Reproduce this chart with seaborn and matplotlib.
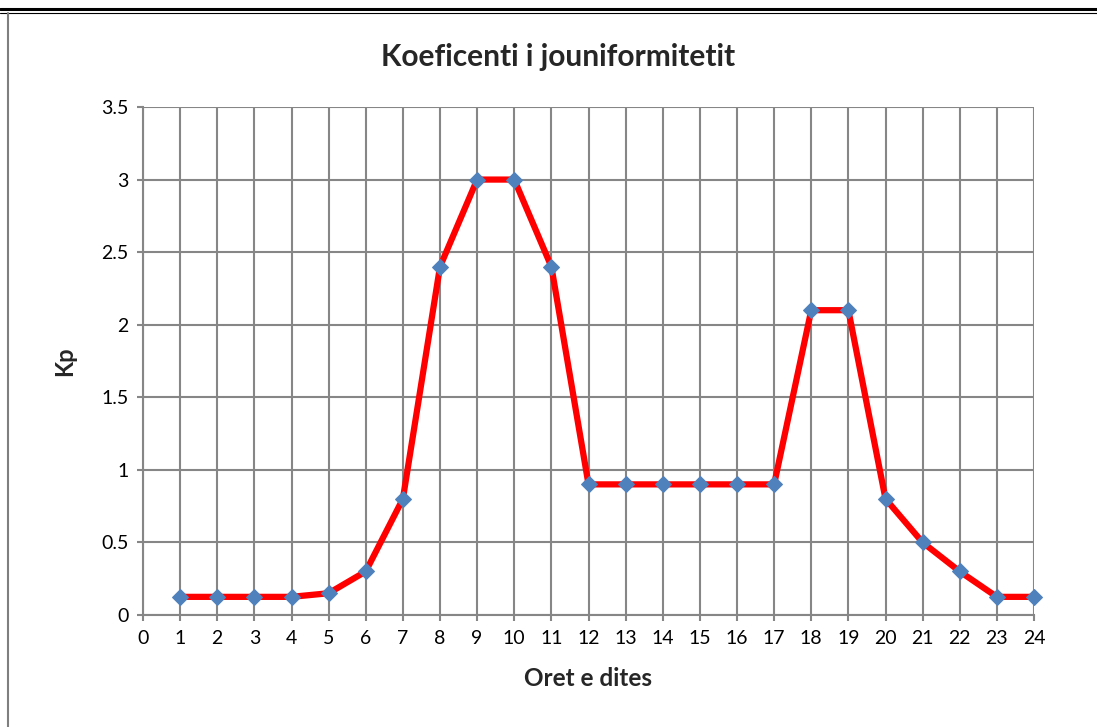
import matplotlib
matplotlib.use("Agg")
import matplotlib.pyplot as plt
import seaborn as sns
import pandas as pd
from matplotlib.lines import Line2D

hours = list(range(1, 25))
kp = [0.125, 0.125, 0.125, 0.125, 0.15, 0.3, 0.8, 2.4, 3.0, 3.0, 2.4, 0.9,
      0.9, 0.9, 0.9, 0.9, 0.9, 2.1, 2.1, 0.8, 0.5, 0.3, 0.125, 0.125]
title = "Koeficenti i jouniformitetit"
xlabel = "Oret e dites"
ylabel = "Kp"

sns.set_style("white")
plt.rcParams['font.family'] = ['Lato', 'DejaVu Sans']

df = pd.DataFrame({"hour": hours, "kp": kp})

fig = plt.figure(figsize=(10.97, 7.27), dpi=100)
ax = fig.add_axes([143/1097, 1 - 615/727, (1034-143)/1097, (615-107)/727])

sns.lineplot(data=df, x="hour", y="kp", ax=ax, color="#FF0000", linewidth=4.5,
             marker="D", markersize=8, markerfacecolor="#4F81BD",
             markeredgecolor="#4F81BD", zorder=3, clip_on=False)

grid_c = "#868686"
ax.set_xlim(0, 24)
ax.set_ylim(0, 3.5)
ax.set_xticks(range(0, 25))
ax.set_yticks([0, 0.5, 1, 1.5, 2, 2.5, 3, 3.5])
ax.set_yticklabels(["0", "0.5", "1", "1.5", "2", "2.5", "3", "3.5"])
ax.grid(True, color=grid_c, linewidth=1.5)
ax.set_axisbelow(True)
for s in ["top", "right"]:
    ax.spines[s].set_visible(False)
for s in ["left", "bottom"]:
    ax.spines[s].set_color(grid_c)
    ax.spines[s].set_linewidth(1.5)
ax.tick_params(axis="both", direction="out", length=4.5, width=1.5, color=grid_c,
               labelsize=14, labelcolor="black", left=True, bottom=True)
ax.tick_params(axis="x", pad=6)
ax.tick_params(axis="y", pad=6)

fig.text(558/1097, 1 - 57/727, title, fontsize=21.5, fontweight="bold",
         ha="center", va="center")
ax.set_xlabel(xlabel, fontsize=17.5, fontweight="bold", labelpad=15)
ax.set_ylabel(ylabel, fontsize=17, fontweight="bold", labelpad=18)

# outer borders (chart area frame)
fig.add_artist(Line2D([0, 1], [1 - 9/727, 1 - 9/727], transform=fig.transFigure,
                      color="black", linewidth=2.2))
fig.add_artist(Line2D([0, 1], [1 - 12.5/727, 1 - 12.5/727], transform=fig.transFigure,
                      color="black", linewidth=0.8))
fig.add_artist(Line2D([8/1097, 8/1097], [0, 1 - 13/727], transform=fig.transFigure,
                      color="#7f7f7f", linewidth=1.5))

fig.savefig("out.png", dpi=100)
